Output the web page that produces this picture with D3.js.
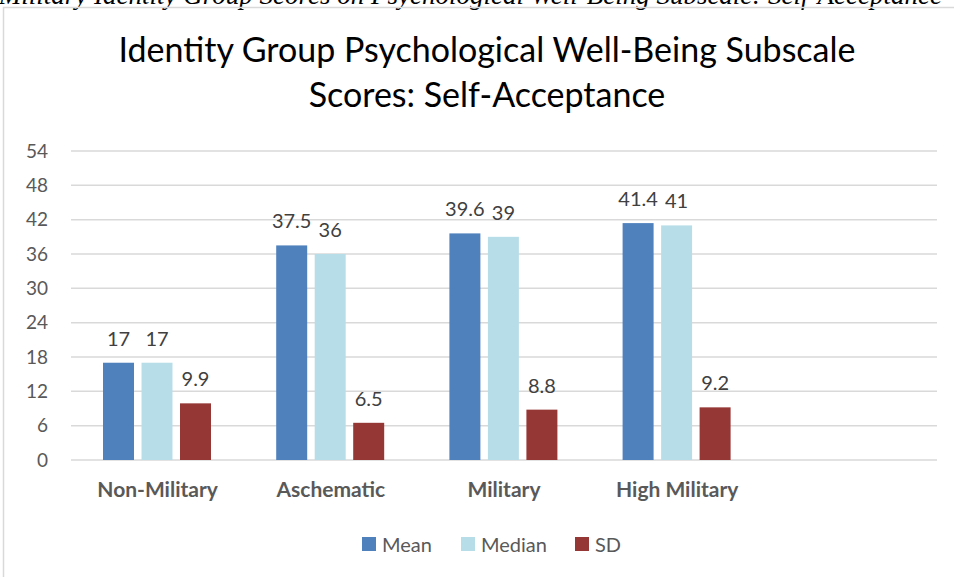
<!DOCTYPE html>
<html>
<head>
<meta charset="utf-8">
<script src="https://cdn.jsdelivr.net/npm/d3@7"></script>
<style>
  html, body { margin: 0; padding: 0; background: #fff; }
  svg { display: block; font-family: Lato, "Open Sans", sans-serif; }
</style>
</head>
<body>
<svg class="chart"></svg>
<script>
// values
var categories = ["Non-Military", "Aschematic", "Military", "High Military"],
  seriesNames = ["Mean", "Median", "SD"],
  meanValues = [17, 37.5, 39.6, 41.4],
  medianValues = [17, 36, 39, 41],
  sdValues = [9.9, 6.5, 8.8, 9.2],
  yTicks = [0, 6, 12, 18, 24, 30, 36, 42, 48, 54],
  titleLines = ["Identity Group Psychological Well-Being Subscale", "Scores: Self-Acceptance"],
  captionText = "Military Identity Group Scores on Psychological Well-Being Subscale: Self-Acceptance";

var Barchart = (function(){

  var that = {},
    svg,
    xScale,
    xInner,
    yScale,
    colors = {Mean: "#4f81bd", Median: "#b7dee8", SD: "#953735"},
    width = 954,
    height = 577,
    plot = {left: 71, right: 937, top: 151, bottom: 460};

  function initialize(){
    svg = d3.select(".chart")
            .attr("width", width)
            .attr("height", height)

    //cut off caption from the page above the chart
    svg.append("text")
       .attr("x", 942)
       .attr("y", 4)
       .attr("text-anchor", "end")
       .style("font-family", "'Liberation Serif', serif")
       .style("font-style", "italic")
       .style("font-size", "27px")
       .attr("fill", "#000")
       .text(captionText)

    //chart frame
    svg.append("rect")
       .attr("x", 3.5)
       .attr("y", 7.5)
       .attr("width", width + 10)
       .attr("height", height + 10)
       .attr("fill", "none")
       .attr("stroke", "#d9d9d9")
       .attr("stroke-width", 1.5)

    makeTitle();
    makeAxis();
    makeBars();
    makeLegend();
  }

  function makeTitle(){
    svg.selectAll(".title")
       .data(titleLines)
       .enter().append("text")
       .attr("class", "title")
       .attr("x", 487)
       .attr("y", function(d, i){ return 62 + i * 45 })
       .attr("text-anchor", "middle")
       .style("font-size", "34px")
       .attr("fill", "#000")
       .text(function(d){ return d })
  }

  function makeAxis(){
    var step = (plot.right - plot.left) / (categories.length + 1);

    //excel leaves one empty slot on the right
    xScale = d3.scaleBand()
               .domain(categories)
               .range([plot.left, plot.left + step * categories.length])
               .padding(0)
    xInner = d3.scaleBand()
               .domain(seriesNames)
               .range([32, 140])
               .paddingInner(0.195)
               .paddingOuter(0)
    yScale = d3.scaleLinear()
               .domain([0, 54])
               .range([plot.bottom, plot.top]);

    //gridlines
    svg.append("g")
       .selectAll("line")
       .data(yTicks)
       .enter().append("line")
       .attr("x1", plot.left)
       .attr("x2", plot.right)
       .attr("y1", function(d){ return yScale(d) })
       .attr("y2", function(d){ return yScale(d) })
       .attr("stroke", "#d9d9d9")
       .attr("stroke-width", 1.5)

    var yAxis = svg.append("g")
       .attr("transform", "translate(" + plot.left + ",0)")
       .call(d3.axisLeft(yScale).tickValues(yTicks).tickSize(0).tickPadding(23))
    yAxis.select(".domain").remove()
    yAxis.selectAll("text")
         .style("font-size", "19px")
         .style("font-family", "Lato, sans-serif")
         .attr("fill", "#595959")

    var xAxis = svg.append("g")
       .attr("transform", "translate(0," + plot.bottom + ")")
       .call(d3.axisBottom(xScale).tickSize(0).tickPadding(22))
    xAxis.select(".domain").remove()
    xAxis.selectAll("text")
         .style("font-size", "21px")
         .style("font-weight", "bold")
         .style("font-family", "Lato, sans-serif")
         .attr("fill", "#595959")
  }

  function makeBars(){
    var rows = categories.map(function(c, i){
      return {
        category: c,
        values: [
          {series: "Mean", value: meanValues[i]},
          {series: "Median", value: medianValues[i]},
          {series: "SD", value: sdValues[i]}
        ]
      }
    })

    var groups = svg.selectAll(".group")
       .data(rows)
       .enter().append("g")
       .attr("class", "group")
       .attr("transform", function(d){ return "translate(" + xScale(d.category) + ",0)" })

    groups.selectAll(".bar")
       .data(function(d){ return d.values })
       .enter().append("rect")
       .attr("class", "bar")
       .attr("x", function(d){ return xInner(d.series) })
       .attr("y", function(d){ return yScale(d.value) })
       .attr("width", xInner.bandwidth())
       .attr("height", function(d){ return yScale(0) - yScale(d.value) })
       .attr("fill", function(d){ return colors[d.series] })

    groups.selectAll(".label")
       .data(function(d){ return d.values })
       .enter().append("text")
       .attr("class", "label")
       .attr("x", function(d){ return xInner(d.series) + xInner.bandwidth() / 2 })
       .attr("y", function(d){ return yScale(d.value) - 17 })
       .attr("text-anchor", "middle")
       .style("font-size", "20px")
       .attr("fill", "#404040")
       .text(function(d){ return d.value })
  }

  function makeLegend(){
    var xs = [362, 461, 575];

    var items = svg.selectAll(".legend")
       .data(seriesNames)
       .enter().append("g")
       .attr("class", "legend")
       .attr("transform", function(d, i){ return "translate(" + xs[i] + ",537)" })

    items.append("rect")
         .attr("width", 14)
         .attr("height", 14)
         .attr("fill", function(d){ return colors[d] })

    items.append("text")
         .attr("x", 20)
         .attr("y", 15)
         .style("font-size", "20px")
         .attr("fill", "#595959")
         .text(function(d){ return d })
  }

  that.init = initialize;
  return that

})();

Barchart.init();
</script>
</body>
</html>
